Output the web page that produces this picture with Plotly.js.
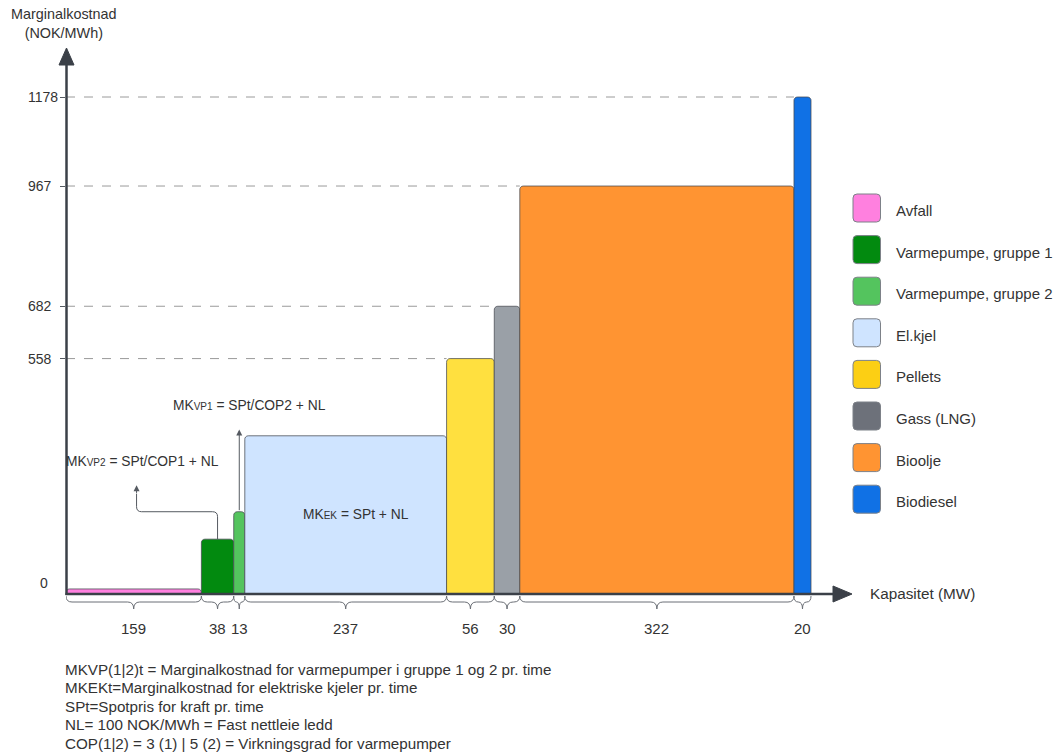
<!DOCTYPE html>
<html>
<head>
<meta charset="utf-8">
<script src="https://cdn.plot.ly/plotly-3.0.1.min.js"></script>
<style>
  html, body { margin: 0; padding: 0; background: #ffffff; }
  #chart { width: 1059px; height: 755px; }
</style>
</head>
<body>
<div id="chart"></div>
<script>
// Production units, ordered by marginal cost (merit order)
const sources = ['Avfall', 'Varmepumpe, gruppe 1', 'Varmepumpe, gruppe 2', 'El.kjel',
                 'Pellets', 'Gass (LNG)', 'Bioolje', 'Biodiesel'];
const capacityMW = [159, 38, 13, 237, 56, 30, 322, 20];
const costNOK = [12, 130, 195, 375, 558, 682, 967, 1178];
const costTicks = [558, 682, 967, 1178];
const footnotes = [
  'MKVP(1|2)t = Marginalkostnad for varmepumper i gruppe 1 og 2 pr. time',
  'MKEKt=Marginalkostnad for elektriske kjeler pr. time',
  'SPt=Spotpris for kraft pr. time',
  'NL= 100 NOK/MWh = Fast nettleie ledd',
  'COP(1|2) = 3 (1) | 5 (2) = Virkningsgrad for varmepumper'
];

// Colours
const barColors = ['#ff80df', '#028a0f', '#54c45e', '#cfe4ff', '#ffe03f', '#9aa0a7', '#ff9432', '#1071e5'];
const swatchColors = ['#ff80df', '#028a0f', '#54c45e', '#cfe4ff', '#fccf14', '#6d717a', '#ff9432', '#1071e5'];
const FONT = 'Liberation Sans, Arial, sans-serif';
const TXT = '#333333';
const AXIS = '#3b4048';

// Plot area geometry (pixels)
const W = 1059, H = 755;
const M = { l: 66, r: 209, t: 50, b: 161 };
const plotW = W - M.l - M.r, plotH = H - M.t - M.b;
const xMax = 920.8, yMax = 1289.4;
const pxPerMW = plotW / xMax, pxPerNOK = plotH / yMax;

// pixel -> paper helpers for decorations
const PX = x => (x - M.l) / plotW;
const PY = y => (H - M.b - y) / plotH;

// cumulative start of each block on the capacity axis
const starts = [];
capacityMW.reduce((acc, c) => { starts.push(acc); return acc + c; }, 0);
const centers = starts.map((s, i) => s + capacityMW[i] / 2);

const bars = {
  type: 'bar',
  x: starts,
  y: costNOK,
  width: capacityMW,
  offset: 0,
  marker: {
    color: barColors,
    line: { color: 'rgba(70,74,82,0.75)', width: 1 },
    cornerradius: 4
  },
  hoverinfo: 'skip',
  showlegend: false
};

const shapes = [];
const annotations = [];

// dashed guide lines from the cost axis to the block that sets the level,
// with left-aligned cost labels
costTicks.forEach(v => {
  const i = costNOK.indexOf(v);
  shapes.push({
    type: 'line', xref: 'x', yref: 'y', x0: 0, x1: starts[i], y0: v, y1: v,
    line: { color: '#9a9a9a', width: 1, dash: 'dash' }, layer: 'below'
  });
  annotations.push({ xref: 'paper', yref: 'y', x: PX(26), y: v, text: String(v),
    showarrow: false, xanchor: 'left', yanchor: 'middle', font: { family: FONT, size: 14, color: TXT } });
});
annotations.push({ xref: 'paper', yref: 'y', x: PX(38), y: 0, yshift: 11, text: '0',
  showarrow: false, xanchor: 'left', yanchor: 'middle', font: { family: FONT, size: 14, color: TXT } });

// axes with arrow heads
shapes.push({ type: 'line', xref: 'paper', yref: 'paper', x0: PX(66.5), x1: PX(66.5), y0: PY(595), y1: PY(62),
  line: { color: AXIS, width: 2.5 }, layer: 'above' });
shapes.push({ type: 'path', xref: 'paper', yref: 'paper',
  path: `M ${PX(66.5)},${PY(48)} L ${PX(74)},${PY(65)} L ${PX(59)},${PY(65)} Z`,
  fillcolor: AXIS, line: { color: AXIS, width: 1 }, layer: 'above' });
shapes.push({ type: 'line', xref: 'paper', yref: 'paper', x0: PX(65.5), x1: PX(836), y0: PY(594), y1: PY(594),
  line: { color: AXIS, width: 2.5 }, layer: 'above' });
shapes.push({ type: 'path', xref: 'paper', yref: 'paper',
  path: `M ${PX(852)},${PY(594)} L ${PX(833)},${PY(586)} L ${PX(833)},${PY(602)} Z`,
  fillcolor: AXIS, line: { color: AXIS, width: 1 }, layer: 'above' });

// curly braces under each block with its capacity
const yTop = PY(596), yMid = PY(602), yTip = PY(609);
capacityMW.forEach((c, i) => {
  const a = starts[i], b = a + c, m = a + c / 2;
  const r = Math.min(6 / pxPerMW, c / 4);
  const path = `M ${a},${yTop} Q ${a},${yMid} ${a + r},${yMid} L ${m - r},${yMid} Q ${m},${yMid} ${m},${yTip} ` +
               `Q ${m},${yMid} ${m + r},${yMid} L ${b - r},${yMid} Q ${b},${yMid} ${b},${yTop}`;
  shapes.push({ type: 'path', xref: 'x', yref: 'paper', path: path,
    line: { color: '#6b6f76', width: 1 }, layer: 'above' });
  annotations.push({ xref: 'x', yref: 'paper', x: m, y: PY(628), text: String(c), showarrow: false,
    xanchor: 'center', yanchor: 'middle', font: { family: FONT, size: 15, color: TXT } });
});

// leader for heat pump group 2 (straight arrow)
const vp2Tip = 390;
annotations.push({ xref: 'x', yref: 'y', axref: 'x', ayref: 'y', x: centers[2], y: vp2Tip,
  ax: centers[2], ay: costNOK[2], text: '', showarrow: true, arrowhead: 2, arrowsize: 1.2,
  arrowwidth: 1, arrowcolor: '#555a61', standoff: 0, startstandoff: 0 });
annotations.push({ xref: 'x', yref: 'y', x: centers[2], y: 446, xshift: 10,
  text: 'MK<span style="font-size:10px">VP1</span> = SPt/COP2 + NL', showarrow: false,
  xanchor: 'center', yanchor: 'middle', font: { family: FONT, size: 13.8, color: TXT } });

// leader for heat pump group 1 (elbow arrow)
const elbowY = 195, elbowTip = 258;
const elbowX = centers[1] - 81 / pxPerMW;
const rx = 5 / pxPerMW, ry = 5 / pxPerNOK;
shapes.push({ type: 'path', xref: 'x', yref: 'y',
  path: `M ${centers[1]},${costNOK[1]} L ${centers[1]},${elbowY - ry} Q ${centers[1]},${elbowY} ${centers[1] - rx},${elbowY} ` +
        `L ${elbowX + rx},${elbowY} Q ${elbowX},${elbowY} ${elbowX},${elbowY + ry} L ${elbowX},${elbowTip - 20}`,
  line: { color: '#555a61', width: 1 } });
annotations.push({ xref: 'x', yref: 'y', axref: 'x', ayref: 'y', x: elbowX, y: elbowTip,
  ax: elbowX, ay: elbowTip - 22, text: '', showarrow: true, arrowhead: 2, arrowsize: 1.2,
  arrowwidth: 1, arrowcolor: '#555a61', standoff: 0, startstandoff: 0 });
annotations.push({ xref: 'x', yref: 'y', x: elbowX, y: 313, xshift: 6,
  text: 'MK<span style="font-size:10px">VP2</span> = SPt/COP1 + NL', showarrow: false,
  xanchor: 'center', yanchor: 'middle', font: { family: FONT, size: 13.8, color: TXT } });

// formula inside the electric boiler block
annotations.push({ xref: 'x', yref: 'y', x: centers[3], y: costNOK[3] / 2, xshift: 10,
  text: 'MK<span style="font-size:10px">EK</span> = SPt + NL', showarrow: false,
  xanchor: 'center', yanchor: 'middle', font: { family: FONT, size: 13.8, color: TXT } });

// axis titles
annotations.push({ xref: 'paper', yref: 'paper', x: PX(64), y: PY(23), text: 'Marginalkostnad<br>(NOK/MWh)',
  showarrow: false, xanchor: 'center', yanchor: 'middle', align: 'center',
  font: { family: FONT, size: 14.4, color: TXT } });
annotations.push({ xref: 'paper', yref: 'paper', x: PX(868), y: PY(593), text: 'Kapasitet (MW)',
  showarrow: false, xanchor: 'left', yanchor: 'middle', font: { family: FONT, size: 15.3, color: TXT } });

// legend with rounded swatches
function roundRect(x, y, w, h, r) {
  const P = (a, b) => `${PX(a)},${PY(b)}`;
  return `M ${P(x + r, y)} L ${P(x + w - r, y)} Q ${P(x + w, y)} ${P(x + w, y + r)} ` +
         `L ${P(x + w, y + h - r)} Q ${P(x + w, y + h)} ${P(x + w - r, y + h)} ` +
         `L ${P(x + r, y + h)} Q ${P(x, y + h)} ${P(x, y + h - r)} ` +
         `L ${P(x, y + r)} Q ${P(x, y)} ${P(x + r, y)} Z`;
}
sources.forEach((name, i) => {
  const cy = 208 + i * 41.6;
  shapes.push({ type: 'path', xref: 'paper', yref: 'paper', path: roundRect(853, cy - 14, 27.5, 28, 4),
    fillcolor: swatchColors[i], line: { color: '#7d8188', width: 1 } });
  annotations.push({ xref: 'paper', yref: 'paper', x: PX(894), y: PY(cy + 2.5), text: name,
    showarrow: false, xanchor: 'left', yanchor: 'middle', font: { family: FONT, size: 15, color: TXT } });
});

// explanatory notes
footnotes.forEach((t, i) => {
  annotations.push({ xref: 'paper', yref: 'paper', x: PX(63), y: PY(669 + i * 18.5), text: t,
    showarrow: false, xanchor: 'left', yanchor: 'middle', font: { family: FONT, size: 15.2, color: TXT } });
});

const layout = {
  width: W, height: H,
  margin: M,
  paper_bgcolor: '#ffffff', plot_bgcolor: '#ffffff',
  showlegend: false,
  bargap: 0,
  xaxis: { range: [0, xMax], showgrid: false, zeroline: false, showline: false,
           showticklabels: false, ticks: '', fixedrange: true, automargin: false },
  yaxis: { range: [0, yMax], showgrid: false, zeroline: false, showline: false,
           tickvals: costTicks, showticklabels: false, ticks: 'outside', ticklen: 5,
           tickcolor: '#555a61', tickwidth: 1, fixedrange: true, automargin: false },
  shapes: shapes,
  annotations: annotations
};

Plotly.newPlot('chart', [bars], layout, { staticPlot: true, displayModeBar: false });
</script>
</body>
</html>
